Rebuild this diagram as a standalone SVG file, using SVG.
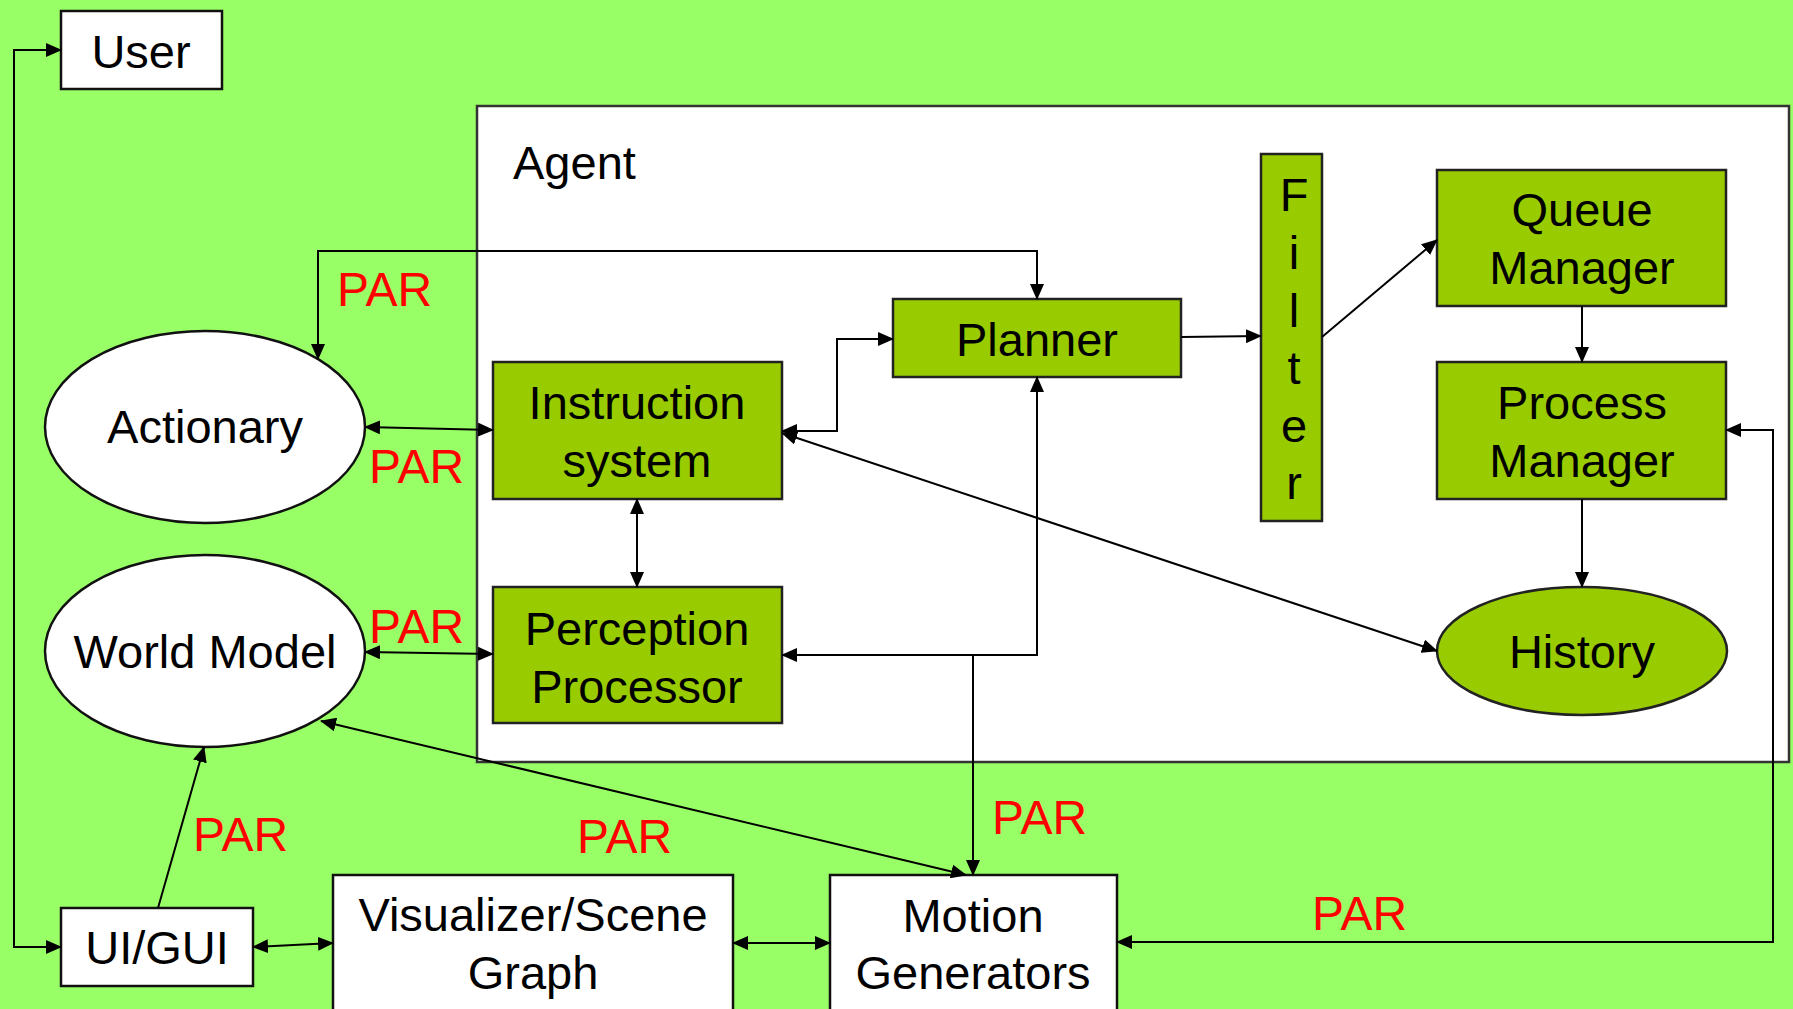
<svg xmlns="http://www.w3.org/2000/svg" width="1793" height="1009" viewBox="0 0 1793 1009">
<style>
.bg{fill:#99FF66}
.w{fill:#ffffff;stroke:#111;stroke-width:2.5}
.g{fill:#99CC00;stroke:#222;stroke-width:2.5}
.t{font-family:"Liberation Sans",Arial,sans-serif;font-size:47px;fill:#000;text-anchor:middle}
.par{font-family:"Liberation Sans",Arial,sans-serif;font-size:48px;fill:#FF0000}
.c{fill:none;stroke:#000;stroke-width:2}
</style>
<defs>
<marker id="ah" markerUnits="userSpaceOnUse" markerWidth="16" markerHeight="14" refX="15" refY="7" orient="auto-start-reverse" viewBox="0 0 16 14">
<path d="M0,0 L16,7 L0,14 z" fill="#000"/>
</marker>
</defs>
<rect class="bg" x="0" y="0" width="1793" height="1009"/>

<g id="agent">
<rect x="477" y="106" width="1312" height="656" fill="#fff" stroke="#333" stroke-width="2.5"/>
<text class="t" x="513" y="179" style="text-anchor:start">Agent</text>
</g>

<g id="user"><rect class="w" x="61" y="11" width="161" height="78"/><text class="t" x="141" y="68">User</text></g>
<g id="actionary"><ellipse class="w" cx="205" cy="427" rx="160" ry="96"/><text class="t" x="205" y="443">Actionary</text></g>
<g id="worldmodel"><ellipse class="w" cx="205" cy="651" rx="160" ry="96"/><text class="t" x="205" y="668">World Model</text></g>
<g id="instruction"><rect class="g" x="493" y="362" width="289" height="137"/><text class="t" x="637" y="419">Instruction</text><text class="t" x="637" y="477">system</text></g>
<g id="perception"><rect class="g" x="493" y="587" width="289" height="136"/><text class="t" x="637" y="645">Perception</text><text class="t" x="637" y="703">Processor</text></g>
<g id="planner"><rect class="g" x="893" y="299" width="288" height="78"/><text class="t" x="1037" y="356">Planner</text></g>
<g id="filter"><rect class="g" x="1261" y="154" width="61" height="367"/>
<text class="t" x="1294" y="211">F</text><text class="t" x="1294" y="269">i</text><text class="t" x="1294" y="327">l</text><text class="t" x="1294" y="384">t</text><text class="t" x="1294" y="442">e</text><text class="t" x="1294" y="499">r</text></g>
<g id="queue"><rect class="g" x="1437" y="170" width="289" height="136"/><text class="t" x="1582" y="226">Queue</text><text class="t" x="1582" y="284">Manager</text></g>
<g id="process"><rect class="g" x="1437" y="362" width="289" height="137"/><text class="t" x="1582" y="419">Process</text><text class="t" x="1582" y="477">Manager</text></g>
<g id="history"><ellipse class="g" cx="1582" cy="651" rx="145" ry="64"/><text class="t" x="1582" y="668">History</text></g>
<g id="uigui"><rect class="w" x="61" y="908" width="192" height="78"/><text class="t" x="157" y="964">UI/GUI</text></g>
<g id="visualizer"><rect class="w" x="333" y="875" width="400" height="145"/><text class="t" x="533" y="931">Visualizer/Scene</text><text class="t" x="533" y="989">Graph</text></g>
<g id="motion"><rect class="w" x="830" y="875" width="287" height="145"/><text class="t" x="973" y="932">Motion</text><text class="t" x="973" y="989">Generators</text></g>

<g id="connectors">
<path class="c" d="M61,50 H14 V947 H61" marker-start="url(#ah)" marker-end="url(#ah)"/>
<path class="c" d="M318,359 V251 H1037 V299" marker-start="url(#ah)" marker-end="url(#ah)"/>
<path class="c" d="M365,427 L493,430" marker-start="url(#ah)" marker-end="url(#ah)"/>
<path class="c" d="M365,652 L493,654" marker-start="url(#ah)" marker-end="url(#ah)"/>
<path class="c" d="M782,431 H837 V339 H893" marker-start="url(#ah)" marker-end="url(#ah)"/>
<path class="c" d="M637,499 V587" marker-start="url(#ah)" marker-end="url(#ah)"/>
<path class="c" d="M782,433 L1437,651" marker-start="url(#ah)" marker-end="url(#ah)"/>
<path class="c" d="M782,655 H1037 V377" marker-start="url(#ah)" marker-end="url(#ah)"/>
<path class="c" d="M973,655 V875" marker-end="url(#ah)"/>
<path class="c" d="M1181,337 L1261,336" marker-end="url(#ah)"/>
<path class="c" d="M1322,337 L1437,240" marker-end="url(#ah)"/>
<path class="c" d="M1582,306 V362" marker-end="url(#ah)"/>
<path class="c" d="M1582,499 V587" marker-end="url(#ah)"/>
<path class="c" d="M1726,430 H1773 V942 H1117" marker-start="url(#ah)" marker-end="url(#ah)"/>
<path class="c" d="M321,721 L966,875" marker-start="url(#ah)" marker-end="url(#ah)"/>
<path class="c" d="M158,908 L204,747" marker-end="url(#ah)"/>
<path class="c" d="M253,947 L333,943" marker-start="url(#ah)" marker-end="url(#ah)"/>
<path class="c" d="M733,943 H830" marker-start="url(#ah)" marker-end="url(#ah)"/>
</g>

<g id="labels">
<text class="par" x="337" y="306">PAR</text>
<text class="par" x="369" y="483">PAR</text>
<text class="par" x="369" y="643">PAR</text>
<text class="par" x="193" y="851">PAR</text>
<text class="par" x="577" y="853">PAR</text>
<text class="par" x="992" y="834">PAR</text>
<text class="par" x="1312" y="930">PAR</text>
</g>
</svg>
